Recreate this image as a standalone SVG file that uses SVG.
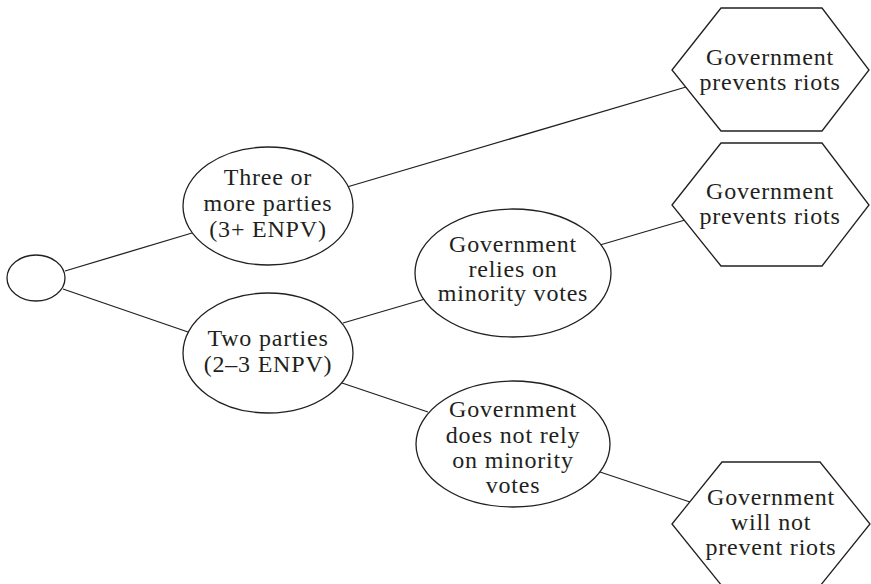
<svg xmlns="http://www.w3.org/2000/svg" width="871" height="584" viewBox="0 0 871 584">
<style>
.s{fill:#fff;stroke:#231f20;stroke-width:1.3}
.l{stroke:#231f20;stroke-width:1.3;fill:none}
text{font-family:"Liberation Serif","Times New Roman",serif;font-size:24px;letter-spacing:0.8px;fill:#231f20;text-anchor:middle}
</style>
<rect width="871" height="584" fill="#fff"/>
<g id="connectors">
<line class="l" x1="65" y1="271" x2="192" y2="233"/>
<line class="l" x1="63" y1="289" x2="188" y2="332"/>
<line class="l" x1="347" y1="187" x2="686" y2="87"/>
<line class="l" x1="343" y1="323" x2="425" y2="299"/>
<line class="l" x1="600" y1="245" x2="685" y2="220"/>
<line class="l" x1="342" y1="383" x2="428" y2="412"/>
<line class="l" x1="600" y1="472" x2="690" y2="502"/>
</g>
<g id="root"><ellipse class="s" cx="36" cy="278" rx="29" ry="23"/></g>
<g id="three">
<ellipse class="s" cx="268" cy="206" rx="85" ry="59"/>
<text x="268" y="185">Three or</text>
<text x="268" y="211">more parties</text>
<text x="268" y="237">(3+ ENPV)</text>
</g>
<g id="two">
<ellipse class="s" cx="268" cy="353" rx="85" ry="60"/>
<text x="268" y="346">Two parties</text>
<text x="268" y="372">(2–3 ENPV)</text>
</g>
<g id="relies">
<ellipse class="s" cx="513" cy="273" rx="98" ry="64"/>
<text x="513" y="252">Government</text>
<text x="513" y="277">relies on</text>
<text x="513" y="301">minority votes</text>
</g>
<g id="notrely">
<ellipse class="s" cx="513" cy="444" rx="97" ry="63"/>
<text x="513" y="417">Government</text>
<text x="513" y="443">does not rely</text>
<text x="513" y="468">on minority</text>
<text x="513" y="493">votes</text>
</g>
<g id="hex1">
<polygon class="s" points="672,70 721,8 822,8 869,70 822,131 721,131"/>
<text x="770" y="65">Government</text>
<text x="770" y="90">prevents riots</text>
</g>
<g id="hex2">
<polygon class="s" points="672,205 721,143 822,143 869,205 822,266 721,266"/>
<text x="770" y="199">Government</text>
<text x="770" y="224">prevents riots</text>
</g>
<g id="hex3">
<polygon class="s" points="672,524 722,462 820,462 870,524 820,586 722,586"/>
<text x="771" y="505">Government</text>
<text x="771" y="530">will not</text>
<text x="771" y="555">prevent riots</text>
</g>
</svg>
